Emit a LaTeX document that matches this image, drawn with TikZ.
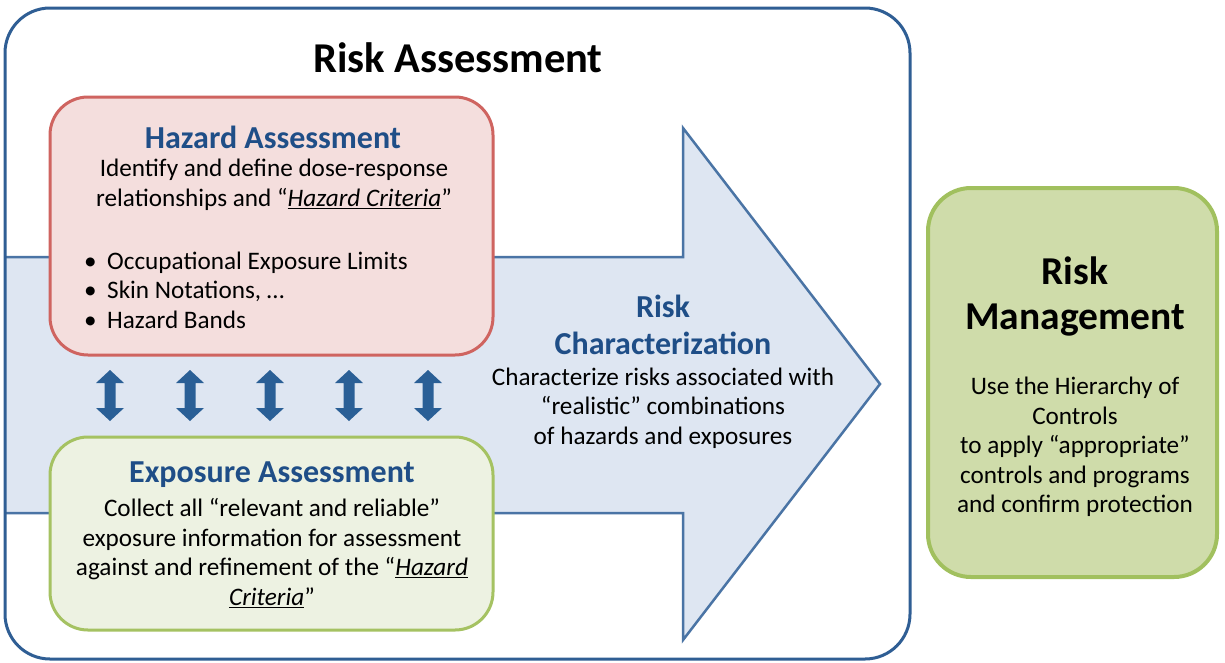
\documentclass[tikz,border=0pt]{standalone}
\usepackage{fontspec}
\setmainfont{Carlito}
\definecolor{outerblue}{RGB}{47,94,148}
\definecolor{arrowfill}{RGB}{222,230,242}
\definecolor{arrowline}{RGB}{74,116,165}
\definecolor{hazfill}{RGB}{244,222,221}
\definecolor{hazline}{RGB}{207,100,96}
\definecolor{expfill}{RGB}{237,242,226}
\definecolor{expline}{RGB}{165,194,98}
\definecolor{rmfill}{RGB}{207,220,170}
\definecolor{rmline}{RGB}{161,192,94}
\definecolor{dblblue}{RGB}{42,95,150}
\definecolor{headblue}{RGB}{31,78,135}
\tikzset{
  box/.style={rounded corners=38pt, line width=3pt},
  ttl/.style={font=\fontsize{32}{37}\selectfont\bfseries, text=headblue, align=center, inner sep=0pt},
  bigttl/.style={font=\fontsize{39.5}{45}\selectfont\bfseries, text=black, align=center, inner sep=0pt},
  body/.style={font=\fontsize{25.2}{29.5}\selectfont, align=center, inner sep=0pt},
}
\newcommand{\hc}[1]{\underline{\textit{#1}}}
\begin{document}
\begin{tikzpicture}[x=1pt,y=-1pt]
\useasboundingbox (0,0) rectangle (1225,662);
% outer frame
\path[fill=white, rounded corners=45pt] (5,8) rectangle (910,659);
% big arrow
\fill[arrowfill] (5,257) -- (683,257) -- (683,128) -- (880,384) -- (683,640) -- (683,513) -- (5,513) -- cycle;
\draw[arrowline, line width=2.5pt, line join=miter] (5,257) -- (683,257) -- (683,128) -- (880,384) -- (683,640) -- (683,513) -- (5,513);
\draw[outerblue, line width=3pt, rounded corners=45pt] (5,8) rectangle (910,659);
\node[font=\fontsize{42.5}{48}\selectfont\bfseries, inner sep=0pt] (ratitle) at (458,58) {Risk Assessment};
% hazard box
\draw[box, fill=hazfill, draw=hazline] (50,97) rectangle (493,355);
\node[ttl] (hztitle) at (273,137) {Hazard Assessment};
\node[body] (hzbody) at (274,185) {Identify and define dose-response\\relationships and “\hc{Hazard Criteria}”};
\node[body, align=left, anchor=west] (hzlist) at (84,290) {\makebox[23pt][l]{•}Occupational Exposure Limits\\\makebox[23pt][l]{•}Skin Notations, …\\\makebox[23pt][l]{•}Hazard Bands};
% exposure box
\draw[box, fill=expfill, draw=expline] (50,437) rectangle (493,630);
\node[ttl] (extitle) at (272,475) {Exposure Assessment};
\node[body] (exbody) at (272,553) {Collect all “relevant and reliable”\\exposure information for assessment\\against and refinement of the “\hc{Hazard}\\\hc{Criteria}”};
% double arrows
\foreach \x in {110,190,270,349,428} {
  \fill[dblblue] (\x-5.5,383) -- (\x-14,383) -- (\x,370) -- (\x+14,383) -- (\x+5.5,383)
    -- (\x+5.5,408) -- (\x+14,408) -- (\x,421) -- (\x-14,408) -- (\x-5.5,408) -- cycle;
}
% risk characterization
\node[ttl] (rctitle) at (663,325) {Risk\\Characterization};
\node[body] (rcbody) at (663,408) {Characterize risks associated with\\“realistic” combinations\\of hazards and exposures};
% risk management
\draw[rounded corners=43pt, line width=4pt, fill=rmfill, draw=rmline] (928,188) rectangle (1217,577);
\node[bigttl] (rmtitle) at (1075,296) {Risk\\Management};
\node[body] (rmbody) at (1075,447) {Use the Hierarchy of\\Controls\\to apply “appropriate”\\controls and programs\\and confirm protection};
\end{tikzpicture}
\end{document}
